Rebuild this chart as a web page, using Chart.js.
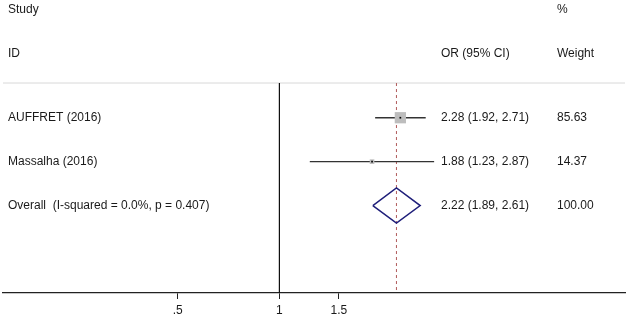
<!DOCTYPE html>
<html>
<head>
<meta charset="utf-8">
<script src="https://cdn.jsdelivr.net/npm/chart.js@4.4.1/dist/chart.umd.min.js"></script>
<style>
  html, body { margin: 0; padding: 0; background: #fff; }
  #wrap { width: 628px; height: 318px; position: relative; }
</style>
</head>
<body>
<div id="wrap"><canvas id="c" width="628" height="318"></canvas></div>
<script>
// ---- data ----
const studies = ["AUFFRET (2016)", "Massalha (2016)"];
const orValues = [2.28, 1.88];
const ciLow = [1.92, 1.23];
const ciHigh = [2.71, 2.87];
const weights = [85.63, 14.37];
const overallLabel = "Overall  (I-squared = 0.0%, p = 0.407)";
const overallOR = 2.22;
const overallLow = 1.89;
const overallHigh = 2.61;
const overallWeight = 100.00;
const tickValues = [0.5, 1, 1.5];
const tickLabels = [".5", "1", "1.5"];
const headers = { study: "Study", id: "ID", or: "OR (95% CI)", pct: "%", weight: "Weight" };

// ---- layout (row units) ----
const X_MIN = 0.152, X_MAX = 10.54;
const ROW_STUDY_HDR = 0.22, ROW_ID_HDR = 1.22, ROW_LINE = 1.89, ROW_FIRST = 2.68, Y_MAX = 6.67;
const rowOf = i => ROW_FIRST + i;
const overallRow = rowOf(studies.length);
const DIAMOND_HALF = 0.4;

const fmt = v => v.toFixed(2);
const datasets = [];

// top light rule
datasets.push({ data: [{x: X_MIN, y: ROW_LINE}, {x: X_MAX, y: ROW_LINE}], showLine: true,
  borderColor: '#d8d8d8', borderWidth: 1, pointRadius: 0 });
// null line at 1
datasets.push({ data: [{x: 1, y: ROW_LINE}, {x: 1, y: Y_MAX}], showLine: true,
  borderColor: '#111', borderWidth: 1, pointRadius: 0 });
// overall dashed line
datasets.push({ data: [{x: overallOR, y: ROW_LINE}, {x: overallOR, y: Y_MAX}], showLine: true,
  borderColor: '#b05a5a', borderWidth: 1, borderDash: [3, 3], pointRadius: 0 });
// CI lines
studies.forEach((s, i) => {
  datasets.push({ data: [{x: ciLow[i], y: rowOf(i)}, {x: ciHigh[i], y: rowOf(i)}], showLine: true,
    borderColor: '#333', borderWidth: 1.4, pointRadius: 0 });
});
// weight boxes
datasets.push({ data: studies.map((s, i) => ({x: orValues[i], y: rowOf(i)})),
  pointStyle: 'rect', pointRadius: weights.map(w => 0.86 * Math.sqrt(w)),
  backgroundColor: '#bdbdbd', borderWidth: 0 });
// point estimates
datasets.push({ data: studies.map((s, i) => ({x: orValues[i], y: rowOf(i)})),
  pointStyle: 'rect', pointRadius: 1.2, backgroundColor: '#000', borderWidth: 0 });
// overall diamond
datasets.push({ data: [
    {x: overallLow, y: overallRow}, {x: overallOR, y: overallRow - DIAMOND_HALF},
    {x: overallHigh, y: overallRow}, {x: overallOR, y: overallRow + DIAMOND_HALF},
    {x: overallLow, y: overallRow}],
  showLine: true, borderColor: '#1f1f7a', borderWidth: 1.5, pointRadius: 0, fill: false, tension: 0 });

// later datasets drawn on top
datasets.forEach((d, i) => { d.order = datasets.length - i; });

const textPlugin = {
  id: 'forestText',
  afterDatasetsDraw(chart) {
    const ctx = chart.ctx, y = chart.scales.y, area = chart.chartArea;
    ctx.save();
    ctx.font = '12px "Liberation Sans", Arial, sans-serif';
    ctx.fillStyle = '#1a1a1a';
    ctx.textBaseline = 'middle';
    ctx.textAlign = 'left';
    const xL = area.left + 5, xOR = 441, xW = 557;
    ctx.fillText(headers.study, xL, y.getPixelForValue(ROW_STUDY_HDR));
    ctx.fillText(headers.pct, xW, y.getPixelForValue(ROW_STUDY_HDR));
    ctx.fillText(headers.id, xL, y.getPixelForValue(ROW_ID_HDR));
    ctx.fillText(headers.or, xOR, y.getPixelForValue(ROW_ID_HDR));
    ctx.fillText(headers.weight, xW, y.getPixelForValue(ROW_ID_HDR));
    studies.forEach((s, i) => {
      const py = y.getPixelForValue(rowOf(i));
      ctx.fillText(s, xL, py);
      ctx.fillText(`${fmt(orValues[i])} (${fmt(ciLow[i])}, ${fmt(ciHigh[i])})`, xOR, py);
      ctx.fillText(fmt(weights[i]), xW, py);
    });
    const po = y.getPixelForValue(overallRow);
    ctx.fillText(overallLabel, xL, po);
    ctx.fillText(`${fmt(overallOR)} (${fmt(overallLow)}, ${fmt(overallHigh)})`, xOR, po);
    ctx.fillText(fmt(overallWeight), xW, po);
    ctx.restore();
  }
};

new Chart(document.getElementById('c'), {
  type: 'scatter',
  data: { datasets },
  options: {
    responsive: false,
    animation: false,
    devicePixelRatio: 1,
    layout: { autoPadding: false, padding: { left: 3, right: 3, top: 0, bottom: 0 } },
    plugins: { legend: { display: false }, tooltip: { enabled: false } },
    scales: {
      x: {
        type: 'logarithmic', min: X_MIN, max: X_MAX,
        afterBuildTicks: s => { s.ticks = tickValues.map(v => ({ value: v })); },
        afterFit: s => { s.height = 25; },
        ticks: {
          autoSkip: false, maxRotation: 0, padding: 4,
          color: '#1a1a1a', font: { family: '"Liberation Sans", Arial, sans-serif', size: 12 },
          callback: (v) => { const k = tickValues.indexOf(v); return k >= 0 ? tickLabels[k] : ''; }
        },
        grid: { drawOnChartArea: false, drawTicks: true, tickLength: 6, color: '#222', lineWidth: 1 },
        border: { display: true, color: '#222', width: 1.3 }
      },
      y: { type: 'linear', reverse: true, min: 0, max: Y_MAX, display: false }
    }
  },
  plugins: [textPlugin]
});
</script>
</body>
</html>
